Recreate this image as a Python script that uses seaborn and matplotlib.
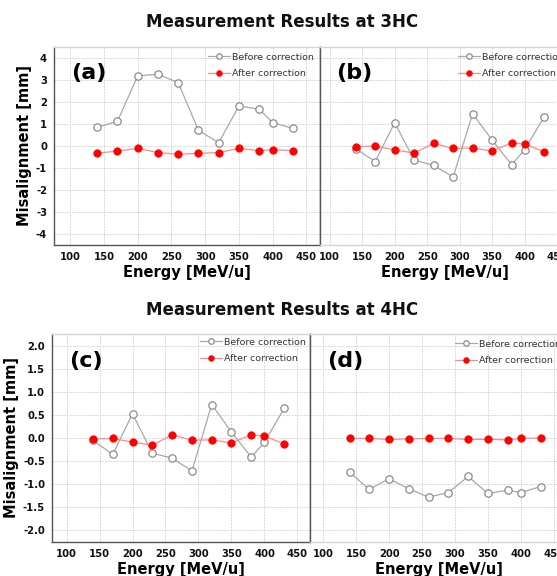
import matplotlib
matplotlib.use("Agg")
import matplotlib.pyplot as plt
from matplotlib.ticker import AutoMinorLocator, MultipleLocator, FormatStrFormatter
import pandas as pd
import seaborn as sns

# -- data --------------------------------------------------------------------

ENERGY = [140, 170, 200, 230, 260, 290, 320, 350, 380, 400, 430]

# 3HC, horizontal (a) and vertical (b)
BEFORE_A = [0.85, 1.12, 3.19, 3.26, 2.88, 0.71, 0.15, 1.82, 1.67, 1.06, 0.80]
AFTER_A = [-0.33, -0.23, -0.11, -0.30, -0.38, -0.33, -0.30, -0.11, -0.21, -0.17, -0.21]
BEFORE_B = [-0.12, -0.71, 1.06, -0.64, -0.88, -1.41, 1.47, 0.27, -0.85, -0.18, 1.32]
AFTER_B = [-0.03, 0.00, -0.18, -0.32, 0.12, -0.11, -0.09, -0.23, 0.14, 0.09, -0.26]

# 4HC, horizontal (c) and vertical (d)
BEFORE_C = [-0.05, -0.36, 0.53, -0.33, -0.44, -0.72, 0.73, 0.13, -0.42, -0.09, 0.65]
AFTER_C = [-0.02, -0.01, -0.09, -0.16, 0.07, -0.05, -0.04, -0.11, 0.07, 0.04, -0.13]
BEFORE_D = [-0.75, -1.12, -0.89, -1.11, -1.29, -1.19, -0.84, -1.21, -1.14, -1.19, -1.06]
AFTER_D = [-0.01, -0.01, -0.03, -0.02, -0.01, -0.01, -0.03, -0.03, -0.04, -0.01, 0.00]

TITLES = ["Measurement Results at 3HC", "Measurement Results at 4HC"]
TAGS = ["(a)", "(b)", "(c)", "(d)"]

# -- style -------------------------------------------------------------------

sns.set_style("white")
plt.rcParams.update({
    "font.family": "DejaVu Sans",
    "text.color": "black",
    "axes.labelcolor": "black",
})

GREY_LINE = "#a8a8a8"
GREY_EDGE = "#8c8c8c"
RED_LINE = "#ff8a8a"
RED_MARK = "#ff0000"
SPINE_DARK = "#555555"
SPINE_LIGHT = "#d6d6d6"

W, H = 557, 576


def px_axes(fig, left, top, right, bottom):
    return fig.add_axes([left / W, 1 - bottom / H, (right - left) / W, (bottom - top) / H])


def draw_panel(ax, before, after, xlim, ylim, ystep, yfmt, tag, left_panel, leg_pad):
    df = pd.DataFrame({"Energy": ENERGY, "before": before, "after": after})
    sns.lineplot(data=df, x="Energy", y="before", ax=ax, color=GREY_LINE,
                 linewidth=0.9, marker="o", markersize=5.3,
                 markerfacecolor="white", markeredgecolor=GREY_EDGE,
                 markeredgewidth=0.9, label="Before correction", zorder=3)
    sns.lineplot(data=df, x="Energy", y="after", ax=ax, color=RED_LINE,
                 linewidth=0.9, marker="o", markersize=5.3,
                 markerfacecolor=RED_MARK, markeredgecolor=RED_MARK,
                 markeredgewidth=0.6, label="After correction", zorder=4)

    ax.set_xlim(*xlim)
    ax.set_ylim(*ylim)
    ax.xaxis.set_major_locator(MultipleLocator(50))
    ax.yaxis.set_major_locator(MultipleLocator(ystep))
    ax.xaxis.set_minor_locator(AutoMinorLocator(2))
    ax.yaxis.set_minor_locator(AutoMinorLocator(2))
    ax.yaxis.set_major_formatter(yfmt)
    ax.set_axisbelow(True)
    ax.grid(True, which="major", color="#d8d8d8", linestyle=(0, (2, 1)), linewidth=0.7)

    ax.tick_params(which="major", direction="out", length=3, width=0.8,
                   color=SPINE_DARK, labelsize=7.2, labelcolor="#111111", pad=2)
    ax.tick_params(which="minor", direction="out", length=1.6, width=0.6,
                   color=SPINE_DARK)
    for lab in ax.get_xticklabels() + ax.get_yticklabels():
        lab.set_fontweight("bold")

    ax.set_xlabel("Energy [MeV/u]", fontsize=10.5, fontweight="bold", labelpad=2)
    if left_panel:
        ax.set_ylabel("Misalignment [mm]", fontsize=10.5, fontweight="bold", labelpad=3)
        ax.spines["left"].set_color(SPINE_DARK)
        ax.spines["bottom"].set_color(SPINE_DARK)
        ax.spines["right"].set_color(SPINE_DARK)
    else:
        ax.set_ylabel("")
        ax.tick_params(axis="y", which="both", left=False, labelleft=False)
        ax.spines["left"].set_color(SPINE_DARK)
        ax.spines["bottom"].set_color(SPINE_LIGHT)
        ax.spines["right"].set_color(SPINE_LIGHT)
    ax.spines["top"].set_color(SPINE_LIGHT)
    for s in ax.spines.values():
        s.set_linewidth(1.0)

    ax.text(0.065, 0.87, tag, transform=ax.transAxes, fontsize=16,
            fontweight="bold", va="center", ha="left", color="black")
    ax.legend(loc="upper right", frameon=False, fontsize=6.8,
              handlelength=2.3, handletextpad=0.3, labelspacing=0.8,
              borderaxespad=leg_pad, borderpad=0.3, markerscale=0.75,
              labelcolor="#333333")


def main():
    fig = plt.figure(figsize=(W / 100, H / 100), dpi=100)

    fmt_int = FormatStrFormatter("%d")
    fmt_1f = FormatStrFormatter("%.1f")

    ax_a = px_axes(fig, 54, 47, 320, 245)
    ax_b = px_axes(fig, 320, 47, 570, 245)
    ax_c = px_axes(fig, 52, 334, 310, 542)
    ax_d = px_axes(fig, 310, 334, 567, 542)

    draw_panel(ax_a, BEFORE_A, AFTER_A, (76, 470), (-4.5, 4.5), 1, fmt_int, TAGS[0], True, 0.3)
    draw_panel(ax_b, BEFORE_B, AFTER_B, (85, 470), (-4.5, 4.5), 1, fmt_int, TAGS[1], False, 0.3)
    draw_panel(ax_c, BEFORE_C, AFTER_C, (78, 469), (-2.27, 2.27), 0.5, fmt_1f, TAGS[2], True, 0.1)
    draw_panel(ax_d, BEFORE_D, AFTER_D, (80, 470), (-2.27, 2.27), 0.5, fmt_1f, TAGS[3], False, 0.3)

    fig.text(282 / W, 1 - 22 / H, TITLES[0], ha="center", va="center",
             fontsize=12, fontweight="bold", color="#111111")
    fig.text(282 / W, 1 - 310 / H, TITLES[1], ha="center", va="center",
             fontsize=12, fontweight="bold", color="#111111")

    fig.savefig("out.png", dpi=100)
    plt.close(fig)


if __name__ == "__main__":
    main()
